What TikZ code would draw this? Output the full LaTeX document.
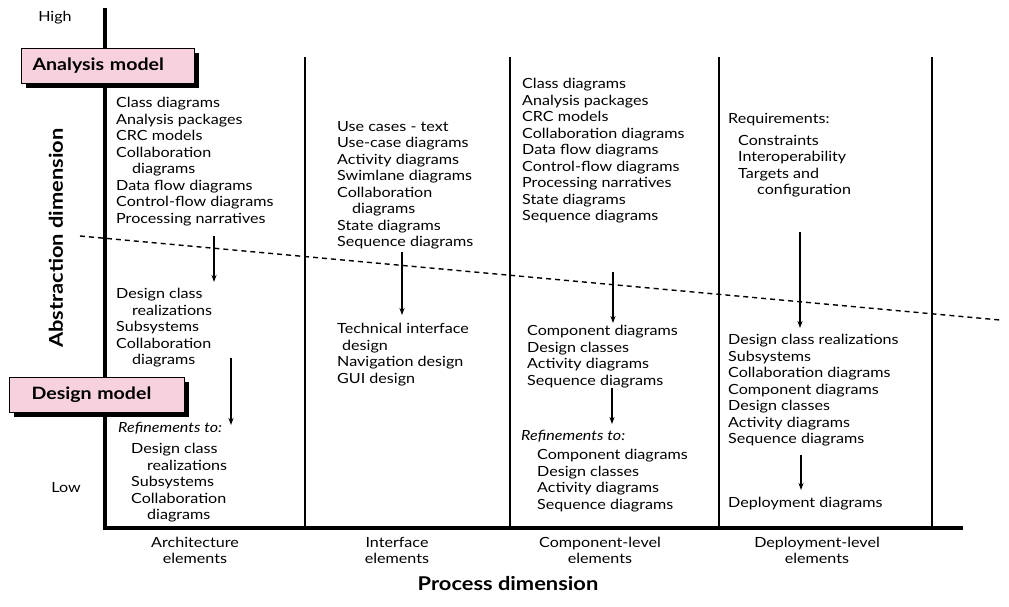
\documentclass[tikz,border=0pt]{standalone}
\usepackage{fontspec}
\setmainfont{Lato}[FakeStretch=1.15]
\usetikzlibrary{arrows.meta,shadows}
\definecolor{modelpink}{RGB}{247,210,222}

\tikzset{
  item/.style={inner sep=0pt, anchor=north west, align=left, font=\fontsize{14}{16.5}\selectfont},
  collabel/.style={inner sep=0pt, anchor=north, align=center, font=\fontsize{14}{16}\selectfont},
  axislabel/.style={inner sep=0pt, font=\fontsize{14}{16}\selectfont},
  dimlabel/.style={inner sep=0pt, font=\fontsize{19}{22}\selectfont\bfseries},
  model/.style={draw, line width=1.2pt, fill=modelpink, minimum height=35pt, align=left,
    anchor=north west, font=\fontsize{17}{20}\selectfont\bfseries,
    drop shadow={shadow xshift=4pt, shadow yshift=-4pt, fill=black, opacity=1}},
  colline/.style={line width=1.6pt},
  refine/.style={-{Stealth[length=7pt,width=5pt]}, line width=1.3pt},
}
\newcommand{\ind}{\hspace*{16pt}}

\begin{document}
\begin{tikzpicture}[x=1pt, y=-1pt]

  \fill[white] (0,0) rectangle (1009,606);
  \useasboundingbox (0,0) rectangle (1009,606);

  % Axes and columns
  \draw[line width=4pt] (105,8) -- (105,528) -- (963,528);
  \foreach \cx in {305,510,719,932}
    \draw[colline] (\cx,57) -- (\cx,528);

  % Axis labels
  \node[axislabel] (high) at (55,18) {High};
  \node[axislabel] (low) at (66,488) {Low};
  \node[dimlabel, rotate=90] (abstraction) at (56,238) {Abstraction dimension};
  \node[dimlabel] (process) at (508,584) {Process dimension};

  % Model boxes
  \node[model, text width=151pt, inner xsep=11pt] (analysis) at (21,48) {Analysis model};
  \node[model, text width=131pt, inner xsep=22pt] (design) at (9,377) {Design model};

  % Architecture elements
  \node[item] (archA) at (116,97) {Class diagrams\\Analysis packages\\CRC models\\Collaboration\\\ind diagrams\\Data flow diagrams\\Control-flow diagrams\\Processing narratives};
  \node[item] (archB) at (116,288) {Design class\\\ind realizations\\Subsystems\\Collaboration\\\ind diagrams};
  \node[item, font=\fontsize{14}{16.5}\selectfont\itshape] (archRef) at (118,422) {Refinements to:};
  \node[item] (archC) at (131,443) {Design class\\\ind realizations\\Subsystems\\Collaboration\\\ind diagrams};

  % Interface elements
  \node[item] (intA) at (337,121) {Use cases - text\\Use-case diagrams\\Activity diagrams\\Swimlane diagrams\\Collaboration\\\hspace*{15pt}diagrams\\State diagrams\\Sequence diagrams};
  \node[item] (intB) at (337,323) {Technical interface\\\hspace*{5pt}design\\Navigation design\\GUI design};

  % Component-level elements
  \node[item] (compA) at (522,78) {Class diagrams\\Analysis packages\\CRC models\\Collaboration diagrams\\Data flow diagrams\\Control-flow diagrams\\Processing narratives\\State diagrams\\Sequence diagrams};
  \node[item] (compB) at (527,325) {Component diagrams\\Design classes\\Activity diagrams\\Sequence diagrams};
  \node[item, font=\fontsize{14}{16.5}\selectfont\itshape] (compRef) at (521,430) {Refinements to:};
  \node[item] (compC) at (537,449) {Component diagrams\\Design classes\\Activity diagrams\\Sequence diagrams};

  % Deployment-level elements
  \node[item] (depA) at (728,113) {Requirements:};
  \node[item] (depB) at (738,135) {Constraints\\Interoperability\\Targets and\\\hspace*{19pt}configuration};
  \node[item] (depC) at (728,334) {Design class realizations\\Subsystems\\Collaboration diagrams\\Component diagrams\\Design classes\\Activity diagrams\\Sequence diagrams};
  \node[item] (depD) at (728,497) {Deployment diagrams};

  % Column labels
  \node[collabel] (archLabel) at (195,537) {Architecture\\elements};
  \node[collabel] (intLabel) at (397,537) {Interface\\elements};
  \node[collabel] (compLabel) at (600,537) {Component-level\\elements};
  \node[collabel] (depLabel) at (817,537) {Deployment-level\\elements};

  % Analysis / design boundary
  \coordinate (bndL) at (80,236);
  \coordinate (bndR) at (1000,320);
  \draw[line width=1.4pt, dash pattern=on 5pt off 4pt] (bndL) -- (bndR);

  % Refinement arrows
  \coordinate (r1s) at (214,236); \coordinate (r1e) at (214,282);
  \coordinate (r2s) at (231,358); \coordinate (r2e) at (231,425);
  \coordinate (r3s) at (402,252); \coordinate (r3e) at (402,315);
  \coordinate (r4s) at (613,272); \coordinate (r4e) at (613,323);
  \coordinate (r5s) at (612,388); \coordinate (r5e) at (612,424);
  \coordinate (r6s) at (800,232); \coordinate (r6e) at (800,328);
  \coordinate (r7s) at (801,455); \coordinate (r7e) at (801,490);
  \foreach \r in {1,...,7}
    \draw[refine] (r\r s) -- (r\r e);

\end{tikzpicture}
\end{document}
